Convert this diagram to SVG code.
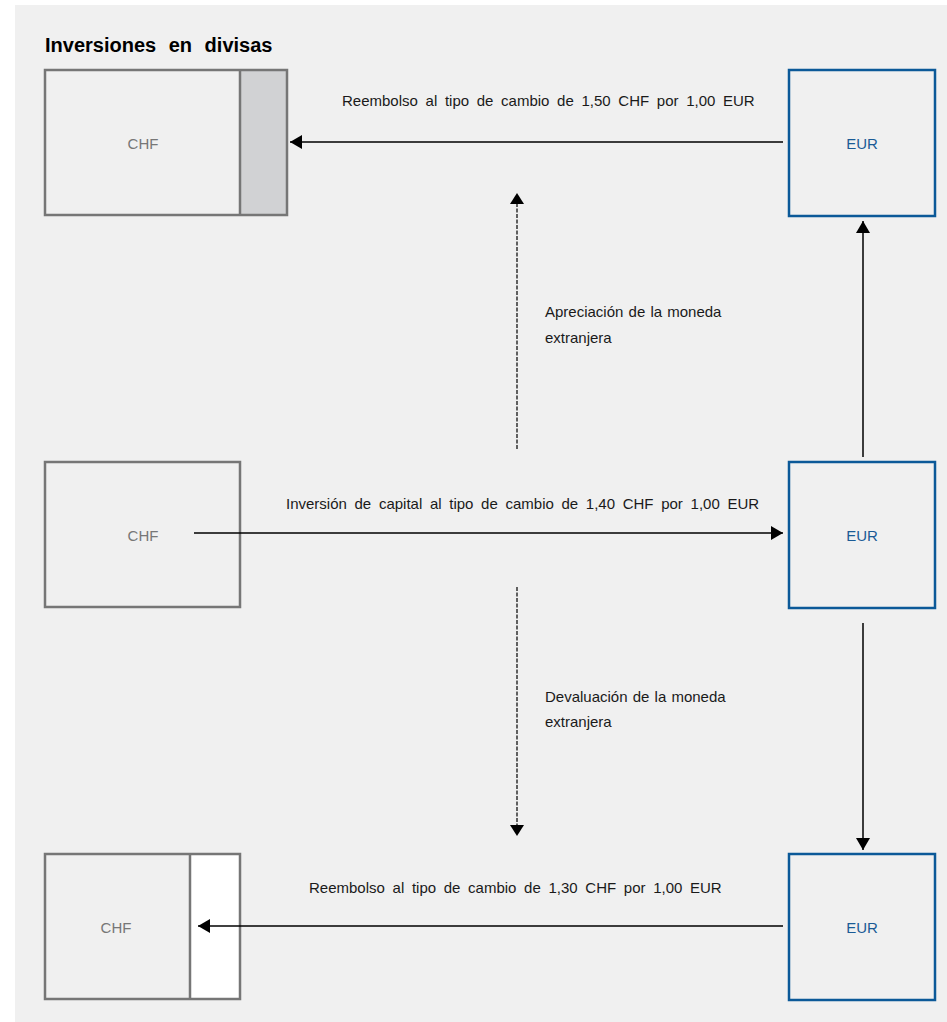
<svg xmlns="http://www.w3.org/2000/svg" width="947" height="1022" viewBox="0 0 947 1022">
<style>
.title{font-family:"Liberation Sans",Arial,sans-serif;font-size:20px;font-weight:bold;fill:#000;word-spacing:7px}
.lbl{font-family:"Liberation Sans",Arial,sans-serif;font-size:15px;fill:#1a1a1a;word-spacing:3.5px}
.side{font-family:"Liberation Sans",Arial,sans-serif;font-size:15px;fill:#1a1a1a;word-spacing:1px}
.chf{fill:none;stroke:#767676;stroke-width:2.5}
.eur{fill:none;stroke:#0b5998;stroke-width:2.5}
.chft{font-family:"Liberation Sans",Arial,sans-serif;font-size:15px;fill:#777;text-anchor:middle}
.eurt{font-family:"Liberation Sans",Arial,sans-serif;font-size:15px;fill:#1a5b96;text-anchor:middle}
.ln{stroke:#000;stroke-width:1.5;fill:none}
.dash{stroke:#000;stroke-width:1.2;fill:none;stroke-dasharray:4 1.5}
</style>
<defs>
<marker id="ah" viewBox="0 0 12 14" refX="12" refY="7" markerWidth="12" markerHeight="14" markerUnits="userSpaceOnUse" orient="auto">
<path d="M0,0 L12,7 L0,14 Z" fill="#000"/>
</marker>
</defs>
<rect x="15" y="5" width="932" height="1017" fill="#f0f0f0"/>
<text class="title" x="45" y="52">Inversiones en divisas</text>

<g id="chf-top">
<rect x="240" y="70" width="47" height="145" fill="#d1d2d4"/>
<rect class="chf" x="45" y="70" width="242" height="145"/>
<line class="chf" x1="240" y1="70" x2="240" y2="215"/>
<text class="chft" x="143" y="149">CHF</text>
</g>
<g id="eur-top">
<rect class="eur" x="789" y="70" width="146" height="146"/>
<text class="eurt" x="862" y="149">EUR</text>
</g>
<g id="chf-mid">
<rect class="chf" x="45" y="462" width="195" height="145"/>
<text class="chft" x="143" y="541">CHF</text>
</g>
<g id="eur-mid">
<rect class="eur" x="789" y="462" width="146" height="146"/>
<text class="eurt" x="862" y="541">EUR</text>
</g>
<g id="chf-bot">
<rect x="190" y="854" width="50" height="145" fill="#fff"/>
<rect class="chf" x="45" y="854" width="195" height="145"/>
<line class="chf" x1="190" y1="854" x2="190" y2="999"/>
<text class="chft" x="116" y="933">CHF</text>
</g>
<g id="eur-bot">
<rect class="eur" x="789" y="854" width="146" height="146"/>
<text class="eurt" x="862" y="933">EUR</text>
</g>

<g id="connectors">
<line class="ln" x1="783" y1="142" x2="290" y2="142" marker-end="url(#ah)"/>
<line class="ln" x1="194" y1="533" x2="783" y2="533" marker-end="url(#ah)"/>
<line class="ln" x1="783" y1="926" x2="198" y2="926" marker-end="url(#ah)"/>
<line class="ln" x1="863" y1="457" x2="863" y2="221" marker-end="url(#ah)"/>
<line class="ln" x1="863" y1="623" x2="863" y2="850" marker-end="url(#ah)"/>
<line class="dash" x1="517" y1="449" x2="517" y2="204"/>
<path d="M510,204 L524,204 L517,193 Z" fill="#000"/>
<line class="dash" x1="517" y1="587" x2="517" y2="825"/>
<path d="M510,825 L524,825 L517,836 Z" fill="#000"/>
<text class="lbl" x="342" y="106">Reembolso al tipo de cambio de 1,50 CHF por 1,00 EUR</text>
<text class="lbl" x="286" y="509">Inversión de capital al tipo de cambio de 1,40 CHF por 1,00 EUR</text>
<text class="lbl" x="309" y="893">Reembolso al tipo de cambio de 1,30 CHF por 1,00 EUR</text>
<text class="side" x="545" y="317">Apreciación de la moneda</text>
<text class="side" x="545" y="343">extranjera</text>
<text class="side" x="545" y="702">Devaluación de la moneda</text>
<text class="side" x="545" y="727">extranjera</text>
</g>
</svg>
